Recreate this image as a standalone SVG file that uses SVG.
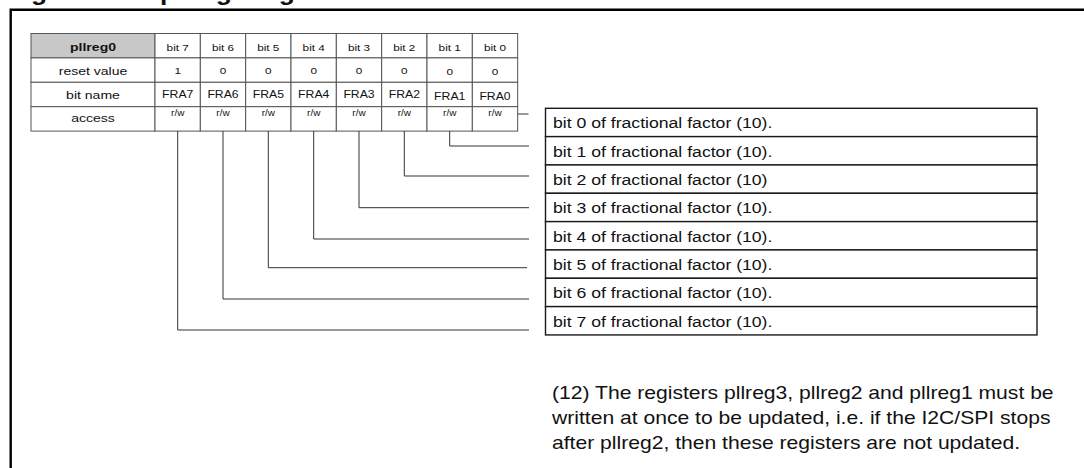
<svg xmlns="http://www.w3.org/2000/svg" width="1084" height="468" viewBox="0 0 1084 468">
<style>
text{font-family:"Liberation Sans",Arial,Helvetica,sans-serif;fill:#111}
.title{font-size:24px;font-weight:bold}
.hd{font-size:11.7px;text-anchor:middle}
.hdb{font-size:11.7px;font-weight:bold;text-anchor:middle}
.sm{font-size:9.8px;text-anchor:middle}
.fra{font-size:10.2px;text-anchor:middle}
.rw{font-size:8.3px;text-anchor:middle}
.desc{font-size:14.7px}
.para{font-size:17.6px}
.cell{fill:#fff;stroke:#555;stroke-width:1}
.hcell{fill:#c8c8c8;stroke:#555;stroke-width:1}
.box{fill:#fff;stroke:#1a1a1a;stroke-width:1.4}
.conn{fill:none;stroke:#333;stroke-width:1}
</style>
<rect width="1084" height="468" fill="#fff"/>
<g id="title">
<text class="title" transform="translate(7.5 0.2) scale(1.1 1)">Figure 10.</text>
<text class="title" transform="translate(160 0.2) scale(1.1 1)">pllreg0 register</text>
</g>
<path id="frame" d="M10.7 468V9.8H1084" fill="none" stroke="#000" stroke-width="2.4"/>
<g id="register-table">
<rect class="hcell" x="31" y="33.5" width="124" height="24.4"/>
<rect class="cell" x="31" y="57.9" width="124" height="24.4"/>
<rect class="cell" x="31" y="82.3" width="124" height="24.4"/>
<rect class="cell" x="31" y="106.7" width="124" height="24.4"/>
<g transform="translate(93 51) scale(1.2 1)"><text class="hdb">pllreg0</text></g>
<g transform="translate(93 74.5) scale(1.2 1)"><text class="hd">reset value</text></g>
<g transform="translate(93 99) scale(1.2 1)"><text class="hd">bit name</text></g>
<g transform="translate(93 122) scale(1.2 1)"><text class="hd">access</text></g>
<g id="col7"><rect class="cell" x="155" y="33.5" width="45.33" height="24.4"/><rect class="cell" x="155" y="57.9" width="45.33" height="24.4"/><rect class="cell" x="155" y="82.3" width="45.33" height="24.4"/><rect class="cell" x="155" y="106.7" width="45.33" height="24.4"/>
<g transform="translate(177.7 50.5) scale(1.2 1)"><text class="sm">bit 7</text></g><g transform="translate(177.7 74) scale(1.2 1)"><text class="sm">1</text></g><g transform="translate(177.7 97.5) scale(1.2 1)"><text class="fra">FRA7</text></g><g transform="translate(177.7 115.5) scale(1.2 1)"><text class="rw">r/w</text></g></g>
<g id="col6"><rect class="cell" x="200.33" y="33.5" width="45.33" height="24.4"/><rect class="cell" x="200.33" y="57.9" width="45.33" height="24.4"/><rect class="cell" x="200.33" y="82.3" width="45.33" height="24.4"/><rect class="cell" x="200.33" y="106.7" width="45.33" height="24.4"/>
<g transform="translate(223 50.5) scale(1.2 1)"><text class="sm">bit 6</text></g><g transform="translate(223 74) scale(1.2 1)"><text class="sm">0</text></g><g transform="translate(223 97.5) scale(1.2 1)"><text class="fra">FRA6</text></g><g transform="translate(223 115.5) scale(1.2 1)"><text class="rw">r/w</text></g></g>
<g id="col5"><rect class="cell" x="245.67" y="33.5" width="45.33" height="24.4"/><rect class="cell" x="245.67" y="57.9" width="45.33" height="24.4"/><rect class="cell" x="245.67" y="82.3" width="45.33" height="24.4"/><rect class="cell" x="245.67" y="106.7" width="45.33" height="24.4"/>
<g transform="translate(268.3 50.5) scale(1.2 1)"><text class="sm">bit 5</text></g><g transform="translate(268.3 74) scale(1.2 1)"><text class="sm">0</text></g><g transform="translate(268.3 97.5) scale(1.2 1)"><text class="fra">FRA5</text></g><g transform="translate(268.3 115.5) scale(1.2 1)"><text class="rw">r/w</text></g></g>
<g id="col4"><rect class="cell" x="291" y="33.5" width="45.33" height="24.4"/><rect class="cell" x="291" y="57.9" width="45.33" height="24.4"/><rect class="cell" x="291" y="82.3" width="45.33" height="24.4"/><rect class="cell" x="291" y="106.7" width="45.33" height="24.4"/>
<g transform="translate(313.7 50.5) scale(1.2 1)"><text class="sm">bit 4</text></g><g transform="translate(313.7 74) scale(1.2 1)"><text class="sm">0</text></g><g transform="translate(313.7 97.5) scale(1.2 1)"><text class="fra">FRA4</text></g><g transform="translate(313.7 115.5) scale(1.2 1)"><text class="rw">r/w</text></g></g>
<g id="col3"><rect class="cell" x="336.33" y="33.5" width="45.33" height="24.4"/><rect class="cell" x="336.33" y="57.9" width="45.33" height="24.4"/><rect class="cell" x="336.33" y="82.3" width="45.33" height="24.4"/><rect class="cell" x="336.33" y="106.7" width="45.33" height="24.4"/>
<g transform="translate(359 50.5) scale(1.2 1)"><text class="sm">bit 3</text></g><g transform="translate(359 74) scale(1.2 1)"><text class="sm">0</text></g><g transform="translate(359 98) scale(1.2 1)"><text class="fra">FRA3</text></g><g transform="translate(359 115.5) scale(1.2 1)"><text class="rw">r/w</text></g></g>
<g id="col2"><rect class="cell" x="381.67" y="33.5" width="45.33" height="24.4"/><rect class="cell" x="381.67" y="57.9" width="45.33" height="24.4"/><rect class="cell" x="381.67" y="82.3" width="45.33" height="24.4"/><rect class="cell" x="381.67" y="106.7" width="45.33" height="24.4"/>
<g transform="translate(404.3 50.5) scale(1.2 1)"><text class="sm">bit 2</text></g><g transform="translate(404.3 74) scale(1.2 1)"><text class="sm">0</text></g><g transform="translate(404.3 97.5) scale(1.2 1)"><text class="fra">FRA2</text></g><g transform="translate(404.3 115.5) scale(1.2 1)"><text class="rw">r/w</text></g></g>
<g id="col1"><rect class="cell" x="427" y="33.5" width="45.33" height="24.4"/><rect class="cell" x="427" y="57.9" width="45.33" height="24.4"/><rect class="cell" x="427" y="82.3" width="45.33" height="24.4"/><rect class="cell" x="427" y="106.7" width="45.33" height="24.4"/>
<g transform="translate(449.7 50.5) scale(1.2 1)"><text class="sm">bit 1</text></g><g transform="translate(449.7 74.5) scale(1.2 1)"><text class="sm">0</text></g><g transform="translate(449.7 100) scale(1.2 1)"><text class="fra">FRA1</text></g><g transform="translate(449.7 115.5) scale(1.2 1)"><text class="rw">r/w</text></g></g>
<g id="col0"><rect class="cell" x="472.33" y="33.5" width="45.33" height="24.4"/><rect class="cell" x="472.33" y="57.9" width="45.33" height="24.4"/><rect class="cell" x="472.33" y="82.3" width="45.33" height="24.4"/><rect class="cell" x="472.33" y="106.7" width="45.33" height="24.4"/>
<g transform="translate(495 50.5) scale(1.2 1)"><text class="sm">bit 0</text></g><g transform="translate(495 74.5) scale(1.2 1)"><text class="sm">0</text></g><g transform="translate(495 100) scale(1.2 1)"><text class="fra">FRA0</text></g><g transform="translate(495 115.5) scale(1.2 1)"><text class="rw">r/w</text></g></g>
</g>
<g id="connectors">
<path class="conn" d="M517.7 114H528.5"/>
<path class="conn" d="M449.7 131.1V146H529"/>
<path class="conn" d="M404.3 131.1V176H529"/>
<path class="conn" d="M359 131.1V207.7H529"/>
<path class="conn" d="M313.7 131.1V239H529"/>
<path class="conn" d="M268.3 131.1V267.7H527"/>
<path class="conn" d="M223 131.1V299H529"/>
<path class="conn" d="M177.7 131.1V330H529"/>
</g>
<g id="desc-bit0"><rect class="box" x="545.5" y="108.3" width="491.5" height="28.33"/><g transform="translate(553 128.3) scale(1.2 1)"><text class="desc">bit 0 of fractional factor (10).</text></g></g>
<g id="desc-bit1"><rect class="box" x="545.5" y="136.63" width="491.5" height="28.33"/><g transform="translate(553 156.6) scale(1.2 1)"><text class="desc">bit 1 of fractional factor (10).</text></g></g>
<g id="desc-bit2"><rect class="box" x="545.5" y="164.96" width="491.5" height="28.33"/><g transform="translate(553 185) scale(1.2 1)"><text class="desc">bit 2 of fractional factor (10)</text></g></g>
<g id="desc-bit3"><rect class="box" x="545.5" y="193.29" width="491.5" height="28.33"/><g transform="translate(553 213.3) scale(1.2 1)"><text class="desc">bit 3 of fractional factor (10).</text></g></g>
<g id="desc-bit4"><rect class="box" x="545.5" y="221.62" width="491.5" height="28.33"/><g transform="translate(553 241.6) scale(1.2 1)"><text class="desc">bit 4 of fractional factor (10).</text></g></g>
<g id="desc-bit5"><rect class="box" x="545.5" y="249.95" width="491.5" height="28.33"/><g transform="translate(553 270) scale(1.2 1)"><text class="desc">bit 5 of fractional factor (10).</text></g></g>
<g id="desc-bit6"><rect class="box" x="545.5" y="278.28" width="491.5" height="28.33"/><g transform="translate(553 298.3) scale(1.2 1)"><text class="desc">bit 6 of fractional factor (10).</text></g></g>
<g id="desc-bit7"><rect class="box" x="545.5" y="306.61" width="491.5" height="28.33"/><g transform="translate(553 326.6) scale(1.2 1)"><text class="desc">bit 7 of fractional factor (10).</text></g></g>
<g id="note">
<g transform="translate(552 398.5) scale(1.2 1)"><text class="para">(12) The registers pllreg3, pllreg2 and pllreg1 must be</text></g>
<g transform="translate(552 423.5) scale(1.2 1)"><text class="para">written at once to be updated, i.e. if the I2C/SPI stops</text></g>
<g transform="translate(552 448.5) scale(1.2 1)"><text class="para">after pllreg2, then these registers are not updated.</text></g>
</g>
</svg>
